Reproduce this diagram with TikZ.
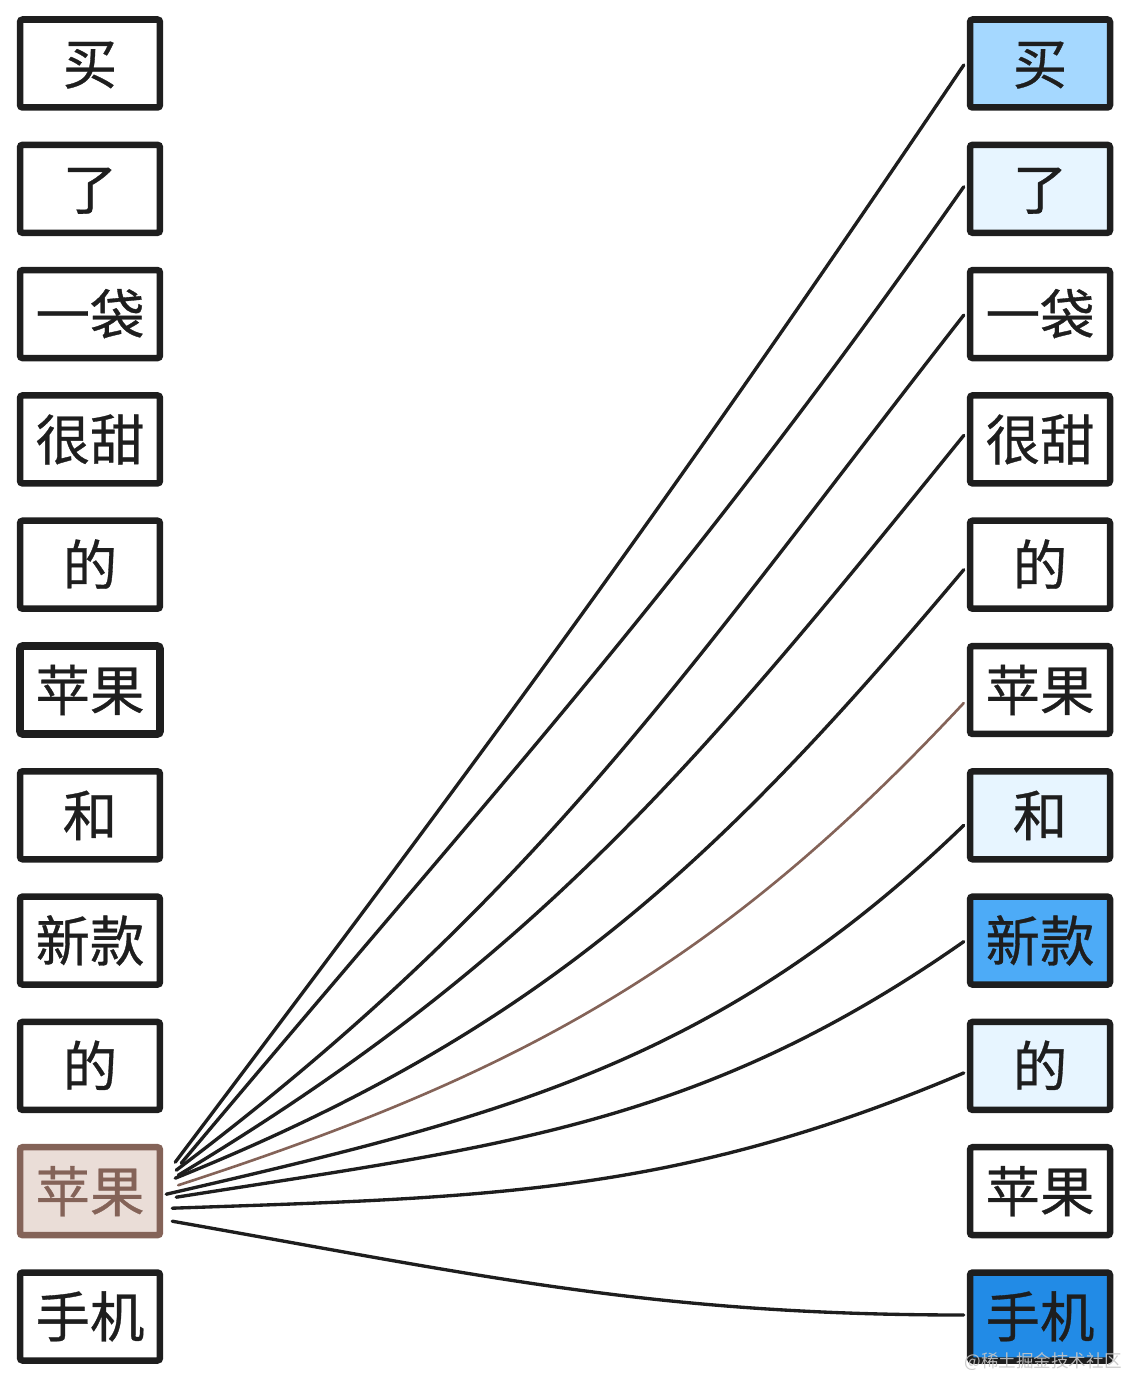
\documentclass[tikz,border=0pt]{standalone}
\usepackage{fontspec}
\newfontfamily\cjk{Noto Sans CJK SC}[RawFeature={embolden=0.6}]
\newfontfamily\cjkmark{Noto Sans CJK SC}
\definecolor{inkblack}{HTML}{1E1E1E}
\definecolor{blueA}{HTML}{A5D8FF}
\definecolor{blueB}{HTML}{E7F5FF}
\definecolor{blueC}{HTML}{4DABF7}
\definecolor{blueD}{HTML}{228BE6}
\definecolor{brownline}{HTML}{846358}
\definecolor{brownfill}{HTML}{EADDD7}

\begin{document}
\begin{tikzpicture}[x=0.02cm,y=-0.02cm,
  tok/.style={draw=inkblack,line width=3.7pt,rounded corners=1.5pt,fill=white,
    minimum width=2.8cm,minimum height=1.76cm,inner sep=0pt,text=inkblack,
    font=\cjk\fontsize{31}{31}\selectfont,text height=26pt,text depth=2.5pt},
  link/.style={draw=inkblack,line width=1.9pt,line cap=round},
  hit/.style={draw=brownline,line width=1.5pt,line cap=round}]
\useasboundingbox (0,0) rectangle (1129,1381);

% left column
\node[tok] (L1) at (90,63.5) {买};
\node[tok] (L2) at (90,188.8) {了};
\node[tok] (L3) at (90,314.1) {一袋};
\node[tok] (L4) at (90,439.4) {很甜};
\node[tok] (L5) at (90,564.7) {的};
\node[tok,line width=4.3pt] (L6) at (90,690) {苹果};
\node[tok] (L7) at (90,815.3) {和};
\node[tok] (L8) at (90,940.6) {新款};
\node[tok] (L9) at (90,1065.9) {的};
\node[tok,draw=brownline,fill=brownfill,text=brownline] (L10) at (90,1191.2) {苹果};
\node[tok] (L11) at (90,1316.5) {手机};

% right column
\node[tok,fill=blueA] (R1) at (1040,63.5) {买};
\node[tok,fill=blueB] (R2) at (1040,188.8) {了};
\node[tok] (R3) at (1040,314.1) {一袋};
\node[tok] (R4) at (1040,439.4) {很甜};
\node[tok] (R5) at (1040,564.7) {的};
\node[tok] (R6) at (1040,690) {苹果};
\node[tok,fill=blueB] (R7) at (1040,815.3) {和};
\node[tok,fill=blueC] (R8) at (1040,940.6) {新款};
\node[tok,fill=blueB] (R9) at (1040,1065.9) {的};
\node[tok] (R10) at (1040,1191.2) {苹果};
\node[tok,fill=blueD] (R11) at (1040,1316.5) {手机};

% links from the second 苹果
\draw[link] ([shift={(12,-29)}]L10.east) to[out=53,in=236] ([shift={(-3,1.5)}]R1.west);
\draw[link] ([shift={(18,-28)}]L10.east) to[out=50,in=235] ([shift={(-3,-2)}]R2.west);
\draw[link] ([shift={(13,-21)}]L10.east) to[out=37,in=232] ([shift={(-3,1)}]R3.west);
\draw[link] ([shift={(15,-16)}]L10.east) to[out=31,in=231] ([shift={(-3,-4)}]R4.west);
\draw[link] ([shift={(12,-13)}]L10.east) to[out=22,in=230] ([shift={(-3,5)}]R5.west);
\draw[hit] ([shift={(15,-6)}]L10.east) to[out=18,in=227] ([shift={(-3,13)}]R6.west);
\draw[link] ([shift={(3,3)}]L10.east) to[out=13,in=224] ([shift={(-3,10)}]R7.west);
\draw[link] ([shift={(13,6)}]L10.east) to[out=9,in=215] ([shift={(-3,1)}]R8.west);
\draw[link] ([shift={(9,17)}]L10.east) to[out=2,in=203] ([shift={(-3,7)}]R9.west);
\draw[link] ([shift={(9,30)}]L10.east) to[out=-10,in=180] ([shift={(-3,-1.5)}]R11.west);

% watermark
\node[text=gray!45,opacity=0.9,inner sep=0pt,font=\cjkmark\fontsize{10}{10}\selectfont] (mark) at (1043,1362) {@稀土掘金技术社区};
\end{tikzpicture}
\end{document}
